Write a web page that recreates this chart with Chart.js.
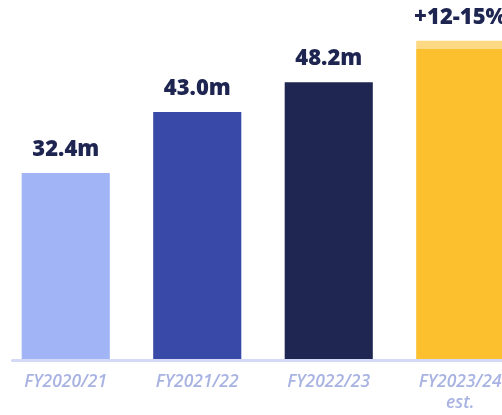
<!DOCTYPE html>
<html>
<head>
<meta charset="utf-8">
<script src="https://cdn.jsdelivr.net/npm/chart.js@4.4.1/dist/chart.umd.min.js"></script>
<style>
html,body{margin:0;padding:0;overflow:hidden;background:#fff;width:502px;height:415px;}
#wrap{width:526px;height:415px;}
</style>
</head>
<body>
<div id="wrap"><canvas id="c" width="526" height="415"></canvas></div>
<script>
const categories = [["FY2020/21"], ["FY2021/22"], ["FY2022/23"], ["FY2023/24", "est."]];
const baseValues = [32.4, 43.0, 48.2, 54.0];
const rangeExtra = [0, 0, 0, 1.4];
const valueLabels = ["32.4m", "43.0m", "48.2m", "+12-15%"];
const barColors = ["#a0b4f6", "#3949a7", "#1f2651", "#fcc02e"];
const extraColor = "#fed983";

const labelPlugin = {
  id: 'valueLabels',
  afterDatasetsDraw(chart) {
    const ctx = chart.ctx;
    const x = chart.scales.x, y = chart.scales.y;
    ctx.save();
    ctx.font = "800 22px 'Open Sans'";
    ctx.fillStyle = "#1d2550";
    ctx.textAlign = "center";
    ctx.textBaseline = "alphabetic";
    for (let i = 0; i < baseValues.length; i++) {
      const top = y.getPixelForValue(baseValues[i] + rangeExtra[i]);
      ctx.fillText(valueLabels[i], x.getPixelForValue(i), top - 17);
    }
    ctx.restore();
  },
  beforeDatasetsDraw(chart) {
    const ctx = chart.ctx;
    const a = chart.chartArea;
    ctx.save();
    ctx.fillStyle = "#d3d9f6";
    ctx.beginPath();
    ctx.roundRect(11, a.bottom, chart.width - 11, 3, 1.5);
    ctx.fill();
    ctx.restore();
  }
};

new Chart(document.getElementById('c'), {
  type: 'bar',
  data: {
    labels: categories,
    datasets: [
      { data: baseValues, backgroundColor: barColors, barPercentage: 0.67, categoryPercentage: 1 },
      { data: rangeExtra, backgroundColor: extraColor, barPercentage: 0.67, categoryPercentage: 1 }
    ]
  },
  options: {
    responsive: false,
    animation: false,
    layout: { padding: 0 },
    plugins: { legend: { display: false }, tooltip: { enabled: false } },
    scales: {
      x: {
        stacked: true,
        grid: { display: false, drawTicks: false },
        border: { display: false },
        ticks: {
          color: "#a8b3e2",
          padding: 13,
          font: { family: "'Open Sans'", size: 17.5, style: 'italic', weight: '600', lineHeight: 1.2 }
        },
        afterFit(scale) { scale.height = 56; }
      },
      y: {
        stacked: true,
        display: false,
        min: 0,
        max: 62.5
      }
    }
  },
  plugins: [labelPlugin]
});
</script>
</body>
</html>
